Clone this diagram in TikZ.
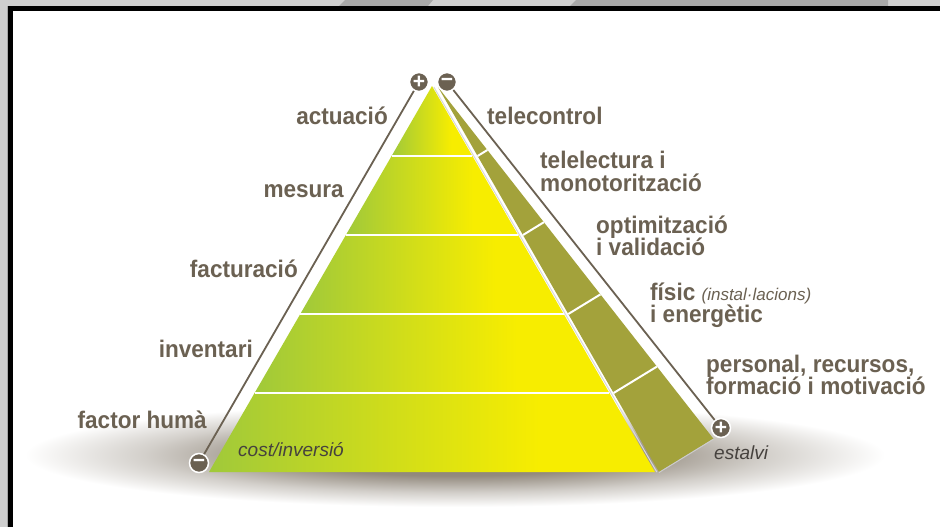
\documentclass[tikz,border=0pt]{standalone}
\usepackage{fontspec}
\setmainfont{Liberation Sans}
\newfontfamily\condfont[FakeStretch=0.94]{Liberation Sans}
\definecolor{tcol}{RGB}{107,97,82}
\definecolor{pgreen}{RGB}{160,201,58}
\definecolor{pyellow}{RGB}{247,237,0}
\definecolor{olivec}{RGB}{163,162,59}
\definecolor{shd}{RGB}{128,118,104}
\definecolor{framegray}{RGB}{207,207,207}
\definecolor{stripegray}{RGB}{168,168,168}
\definecolor{italcol}{RGB}{70,66,62}
\pgfdeclarehorizontalshading{tiershade}{100bp}{color(0bp)=(pgreen); color(25bp)=(pgreen); color(62bp)=(pyellow); color(100bp)=(pyellow)}
\pgfdeclareradialshading{shadowshade}{\pgfpoint{0bp}{0bp}}{color(0bp)=(shd); color(10bp)=(shd!85!white); color(18bp)=(shd!35!white); color(25bp)=(white); color(50bp)=(white)}
\newcommand\labfont[1]{\condfont\bfseries\fontsize{24}{#1}\selectfont\lineskiplimit=-30pt\relax}
\tikzset{
  lab/.style={text=tcol, font=\labfont{20}, inner sep=0pt},
  lab2/.style={lab, align=left, anchor=base west},
  ital/.style={text=italcol, font=\itshape\fontsize{19}{19}\selectfont, inner sep=0pt},
  pm/.style={circle, fill=tcol, draw=white, line width=1.5pt, inner sep=0pt, minimum size=19pt, text=white, font=\bfseries\fontsize{21}{21}\selectfont},
  conn/.style={draw=tcol, line width=1.8pt},
  divider/.style={draw=white, line width=2pt},
  tier/.style={shading=tiershade}
}
\begin{document}
\begin{tikzpicture}[x=1pt,y=-1pt]
\useasboundingbox (0,0) rectangle (940,527);
% frame
\fill[white] (0,0) rectangle (940,527);
\fill[framegray] (0,0) rectangle (940,6);
\fill[framegray] (0,0) rectangle (8,527);
\fill[stripegray] (339,6) -- (345,0) -- (433,0) -- (428,6) -- cycle;
\fill[stripegray] (570,6) -- (576,0) -- (888,0) -- (888,6) -- cycle;
\fill[gray!70] (7,6) rectangle (8,527);
\fill[black] (8,6) rectangle (940,11);
\fill[black] (8,6) rectangle (13,527);
% shadow
\shade[shading=shadowshade] (455,455) ellipse [x radius=430, y radius=52];
% front face tiers
\shade[tier] (432,86) -- (472.4,156) -- (391.6,156) -- cycle;
\shade[tier] (391.6,156) -- (472.4,156) -- (518.1,235) -- (345.9,235) -- cycle;
\shade[tier] (345.9,235) -- (518.1,235) -- (563.7,314) -- (300.3,314) -- cycle;
\shade[tier] (300.3,314) -- (563.7,314) -- (609.4,393) -- (254.6,393) -- cycle;
\shade[tier] (254.6,393) -- (609.4,393) -- (655,472) -- (209,472) -- cycle;
\draw[divider] (391.6,156) -- (472.4,156);
\draw[divider] (345.9,235) -- (518.1,235);
\draw[divider] (300.3,314) -- (563.7,314);
\draw[divider] (254.6,393) -- (609.4,393);
\draw[gray!30, line width=1pt] (433.8,87) -- (656.8,472);
% side face
\fill[olivec] (438,87) -- (659,472) -- (713.4,438.7) -- cycle;
\draw[gray!40, line width=1pt] (659,472.5) -- (713.4,439.2);
\draw[divider] (477.6,156) -- (487.4,150.0);
\draw[divider] (523.0,235) -- (543.9,222.2);
\draw[divider] (568.3,314) -- (600.4,294.4);
\draw[divider] (613.6,393) -- (656.9,366.6);
% poles
\node[pm] (plustop) at (419,82) {+};
\node[pm] (minustop) at (447,82) {−};
\node[pm] (minusbot) at (199,463) {−};
\node[pm] (plusbot) at (721,428) {+};
\draw[conn] (plustop) -- (minusbot);
\draw[conn] (minustop) -- (plusbot);
% left labels
\node[lab, anchor=base east] (lact) at (388,124) {actuació};
\node[lab, anchor=base east] (lmes) at (344,197) {mesura};
\node[lab, anchor=base east] (lfac) at (298,277) {facturació};
\node[lab, anchor=base east] (linv) at (253,357) {inventari};
\node[lab, anchor=base east] (lhum) at (207,428) {factor humà};
% right labels (anchor = baseline of last line)
\node[lab, anchor=base west] (rtel) at (487,124) {telecontrol};
\node[lab2, font=\labfont{23}] (rlec) at (540,191) {telelectura i\\monotorització};
\node[lab2, font=\labfont{22}] (ropt) at (596,255) {optimització\\i validació};
\node[lab2, font=\labfont{22}] (rfis) at (650,322) {físic {\normalfont\itshape\fontsize{17}{17}\selectfont(instal·lacions)}\\i energètic};
\node[lab2, font=\labfont{22}] (rper) at (706,394) {personal, recursos,\\formació i motivació};
% axis labels
\node[ital, anchor=base west] (cost) at (238,456) {cost/inversió};
\node[ital, anchor=base west] (estalvi) at (714,459) {estalvi};
\end{tikzpicture}
\end{document}
